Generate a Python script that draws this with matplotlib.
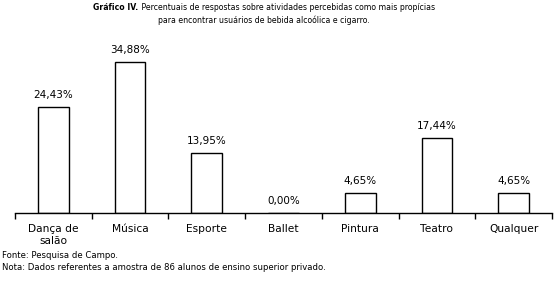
import matplotlib
matplotlib.use("Agg")
import matplotlib.pyplot as plt

categories = ["Dança de\nsalão", "Música", "Esporte", "Ballet", "Pintura", "Teatro", "Qualquer"]
values = [24.43, 34.88, 13.95, 0.00, 4.65, 17.44, 4.65]
value_labels = ["24,43%", "34,88%", "13,95%", "0,00%", "4,65%", "17,44%", "4,65%"]

title_bold = "Gráfico IV."
title_rest = " Percentuais de respostas sobre atividades percebidas como mais propícias"
title_line2 = "para encontrar usuários de bebida alcoólica e cigarro."
source = "Fonte: Pesquisa de Campo."
note = "Nota: Dados referentes a amostra de 86 alunos de ensino superior privado."

plt.rcParams['font.family'] = ['DejaVu Sans']
W, H = 559, 282
fig = plt.figure(figsize=(W / 100, H / 100), dpi=100)
fig.patch.set_facecolor("white")

left, right = 15 / W, 552 / W
bottom = (H - 213.3) / H
top_px = 40
ax = fig.add_axes([left, bottom, right - left, (213.3 - top_px) / H])
ymax = (213.3 - top_px) / 4.335
ax.set_xlim(-0.5, len(categories) - 0.5)
ax.set_ylim(0, ymax)

x = range(len(categories))
ax.bar(x, values, width=0.4, color="white", edgecolor="black", linewidth=1.0)
for xi, v, lab in zip(x, values, value_labels):
    ax.annotate(lab, (xi, v), xytext=(0, 5), textcoords="offset points",
                ha="center", va="bottom", fontsize=7.5)

for s in ["top", "right", "left"]:
    ax.spines[s].set_visible(False)
ax.spines["bottom"].set_linewidth(1.0)
ax.set_yticks([])
ax.set_xticks([i - 0.5 for i in range(len(categories) + 1)], minor=False)
ax.set_xticklabels([])
ax.tick_params(axis="x", direction="out", length=4, width=1.0)
ax.set_xticks(list(x), minor=True)
ax.set_xticklabels(categories, minor=True, fontsize=7.7, linespacing=1.25)
ax.tick_params(axis="x", which="minor", length=0, pad=8)

# Title with bold prefix
fs_t = 5.6
cx = 264 / W
renderer = fig.canvas.get_renderer()
tb = fig.text(0, 1 - 8 / H, title_bold, fontsize=fs_t, fontweight="bold", va="center", ha="left")
tr = fig.text(0, 1 - 8 / H, title_rest, fontsize=fs_t, va="center", ha="left")
wb = tb.get_window_extent(renderer).width
wr = tr.get_window_extent(renderer).width
start = cx * W - (wb + wr) / 2
tb.set_x(start / W)
tr.set_x((start + wb) / W)
fig.text(cx, 1 - 20 / H, title_line2, fontsize=fs_t, va="center", ha="center")

fig.text(2 / W, 1 - 256 / H, source, fontsize=6.1, va="center", ha="left")
fig.text(2 / W, 1 - 268 / H, note, fontsize=6.1, va="center", ha="left")

fig.savefig("out.png", dpi=100, facecolor="white")
